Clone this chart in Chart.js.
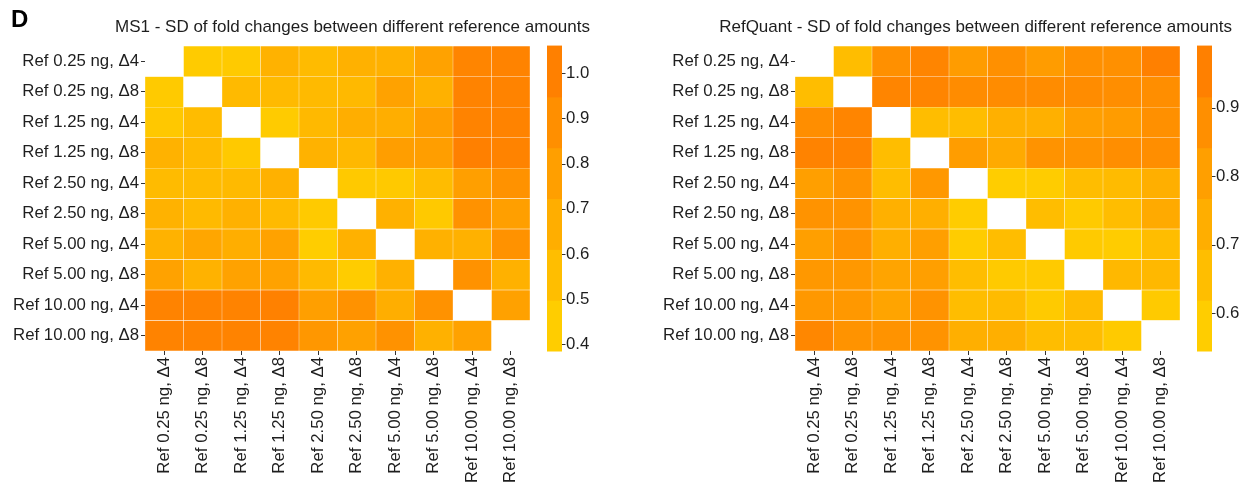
<!DOCTYPE html>
<html>
<head>
<meta charset="utf-8">
<script src="https://cdn.jsdelivr.net/npm/chart.js@4.4.1/dist/chart.umd.min.js"></script>
<style>
  html, body { margin: 0; padding: 0; background: #fff; }
  #wrap { position: relative; width: 1240px; height: 483px; overflow: hidden; }
  canvas { position: absolute; top: 0; }
  #ms1 { left: 0; }
  #refquant { left: 620px; }
</style>
</head>
<body>
<div id="wrap">
  <canvas id="ms1" width="600" height="483"></canvas>
  <canvas id="refquant" width="620" height="483"></canvas>
</div>
<script>
// Reference conditions (same order on both axes)
const refLabels = [
  'Ref 0.25 ng, Δ4', 'Ref 0.25 ng, Δ8',
  'Ref 1.25 ng, Δ4', 'Ref 1.25 ng, Δ8',
  'Ref 2.50 ng, Δ4', 'Ref 2.50 ng, Δ8',
  'Ref 5.00 ng, Δ4', 'Ref 5.00 ng, Δ8',
  'Ref 10.00 ng, Δ4', 'Ref 10.00 ng, Δ8'
];

const panelTag = 'D';
const ms1Title = 'MS1 - SD of fold changes between different reference amounts';
const refQuantTitle = 'RefQuant - SD of fold changes between different reference amounts';

// SD of fold changes, rows/columns follow refLabels; null = same reference (diagonal)
const ms1SD = [
  [null, 0.40, 0.41, 0.62, 0.54, 0.63, 0.63, 0.76, 1.02, 1.03],
  [0.41, null, 0.55, 0.55, 0.55, 0.56, 0.76, 0.63, 1.03, 1.03],
  [0.43, 0.53, null, 0.40, 0.56, 0.66, 0.66, 0.80, 1.03, 1.03],
  [0.62, 0.55, 0.42, null, 0.62, 0.57, 0.80, 0.80, 1.06, 1.03],
  [0.54, 0.54, 0.55, 0.63, null, 0.42, 0.42, 0.53, 0.79, 0.90],
  [0.62, 0.55, 0.63, 0.55, 0.41, null, 0.63, 0.42, 0.90, 0.79],
  [0.62, 0.73, 0.66, 0.76, 0.385, 0.63, null, 0.63, 0.63, 0.90],
  [0.76, 0.62, 0.76, 0.76, 0.55, 0.39, 0.63, null, 0.90, 0.63],
  [1.03, 1.03, 1.03, 1.05, 0.79, 0.90, 0.66, 0.90, null, 0.77],
  [1.03, 1.03, 1.03, 1.03, 0.86, 0.77, 0.90, 0.63, 0.76, null]
];

const refQuantSD = [
  [null, 0.64, 0.90, 0.96, 0.83, 0.90, 0.83, 0.90, 0.90, 0.99],
  [0.64, null, 0.96, 0.96, 0.92, 0.92, 0.92, 0.92, 0.91, 0.91],
  [0.91, 0.96, null, 0.64, 0.64, 0.71, 0.71, 0.81, 0.83, 0.90],
  [0.975, 0.975, 0.64, null, 0.82, 0.75, 0.88, 0.88, 0.91, 0.91],
  [0.81, 0.88, 0.64, 0.85, null, 0.545, 0.55, 0.64, 0.65, 0.72],
  [0.88, 0.88, 0.71, 0.72, 0.55, null, 0.64, 0.56, 0.64, 0.75],
  [0.81, 0.88, 0.72, 0.81, 0.55, 0.64, null, 0.56, 0.55, 0.64],
  [0.85, 0.85, 0.78, 0.81, 0.64, 0.56, 0.56, null, 0.666, 0.666],
  [0.85, 0.85, 0.78, 0.88, 0.64, 0.65, 0.56, 0.65, null, 0.56],
  [0.95, 0.88, 0.88, 0.88, 0.72, 0.72, 0.64, 0.64, 0.56, null]
];

// Colour-bar tick values
const ms1LegendTicks = [0.4, 0.5, 0.6, 0.7, 0.8, 0.9, 1.0];
const refQuantLegendTicks = [0.6, 0.7, 0.8, 0.9];

const FONT = "'Liberation Sans', Arial, sans-serif";
const INK = '#1e1e1e';
const TICK_SIZE = 16.8;
const LOW = [255, 205, 0];   // gold
const HIGH = [255, 128, 0];  // dark orange

function fillFor(v, lo, hi) {
  const t = Math.max(0, Math.min(1, (v - lo) / (hi - lo)));
  const c = LOW.map((l, i) => Math.round(l + (HIGH[i] - l) * t));
  return `rgb(${c[0]},${c[1]},${c[2]})`;
}

// Stepped colour bar next to the plot area, with small tick marks
const colourBar = {
  id: 'colourBar',
  afterDraw(chart, args, opts) {
    const { ctx, chartArea } = chart;
    const sc = chart.scales.cb;
    const x0 = chartArea.right + 17, w = 15;
    const top = sc.getPixelForValue(opts.hi), bottom = sc.getPixelForValue(opts.lo);
    const h = (bottom - top) / opts.bins;
    ctx.save();
    for (let i = 0; i < opts.bins; i++) {
      const v = opts.lo + (opts.hi - opts.lo) * i / (opts.bins - 1);
      ctx.fillStyle = fillFor(v, opts.lo, opts.hi);
      const yb = bottom - h * i;
      ctx.fillRect(x0, yb - h - 0.5, w, h + 1);
    }
    ctx.strokeStyle = '#333';
    ctx.lineWidth = 1;
    sc.ticks.forEach(t => {
      const y = Math.round(sc.getPixelForValue(t.value)) + 0.5;
      ctx.beginPath();
      ctx.moveTo(x0 + w, y);
      ctx.lineTo(x0 + w + 3.5, y);
      ctx.stroke();
    });
    ctx.restore();
  }
};

// Panel title (right-aligned) and optional panel letter
const panelHeading = {
  id: 'panelHeading',
  afterDraw(chart, args, opts) {
    const { ctx } = chart;
    ctx.save();
    ctx.textBaseline = 'alphabetic';
    ctx.fillStyle = INK;
    ctx.font = `17px ${FONT}`;
    ctx.textAlign = 'right';
    ctx.fillText(opts.title, opts.right, 31.5);
    if (opts.tag) {
      ctx.fillStyle = '#000';
      ctx.font = `bold 24px ${FONT}`;
      ctx.textAlign = 'left';
      ctx.fillText(opts.tag, 11, 26.5);
    }
    ctx.restore();
  }
};

function heatmap(id, values, title, legendTicks, yAxisWidth, legendWidth, titleRight, tag) {
  const flat = values.flat().filter(v => v !== null);
  const lo = Math.min(...flat), hi = Math.max(...flat);
  const font = { family: FONT, size: TICK_SIZE };

  const datasets = values.map((row, r) => ({
    data: row.map(v => (v === null ? null : [r, r + 1])),
    backgroundColor: row.map(v => (v === null ? 'rgba(0,0,0,0)' : fillFor(v, lo, hi))),
    borderColor: 'rgba(255,255,255,0.16)',
    borderWidth: 0.5,
    borderSkipped: false,
    grouped: false,
    barPercentage: 1,
    categoryPercentage: 1
  }));

  return new Chart(document.getElementById(id), {
    type: 'bar',
    data: { labels: refLabels, datasets },
    plugins: [colourBar, panelHeading],
    options: {
      responsive: false,
      animation: false,
      devicePixelRatio: 1,
      layout: { padding: { left: 0, right: 0, top: 41, bottom: 0 } },
      plugins: {
        legend: { display: false },
        tooltip: { enabled: false },
        title: { display: false },
        colourBar: { lo, hi, bins: 6 },
        panelHeading: { title, right: titleRight, tag }
      },
      scales: {
        x: {
          type: 'category',
          offset: true,
          grid: { display: true, offset: false, drawOnChartArea: false, drawTicks: true, tickLength: 4, color: '#333' },
          border: { display: false },
          ticks: { autoSkip: false, minRotation: 90, maxRotation: 90, padding: 2, color: INK, font },
          afterFit(s) { s.height = 132; }
        },
        y: {
          type: 'linear', position: 'left', min: 0, max: 10, reverse: true,
          afterBuildTicks(s) { s.ticks = refLabels.map((_, i) => ({ value: i + 0.5 })); },
          grid: { display: true, drawOnChartArea: false, drawTicks: true, tickLength: 4, color: '#333' },
          border: { display: false },
          ticks: { padding: 2, color: INK, font, callback: (v, i) => refLabels[i] },
          afterFit(s) { s.width = yAxisWidth; }
        },
        cb: {
          type: 'linear', position: 'right', min: lo, max: hi,
          afterBuildTicks(s) { s.ticks = legendTicks.map(v => ({ value: v })); },
          grid: { display: false, drawTicks: false },
          border: { display: false },
          ticks: { padding: 36, color: INK, font, callback: v => v.toFixed(1) },
          afterFit(s) { s.width = legendWidth; }
        }
      }
    }
  });
}

heatmap('ms1', ms1SD, ms1Title, ms1LegendTicks, 145, 70, 590, panelTag);
heatmap('refquant', refQuantSD, refQuantTitle, refQuantLegendTicks, 175, 60, 612, '');
</script>
</body>
</html>
